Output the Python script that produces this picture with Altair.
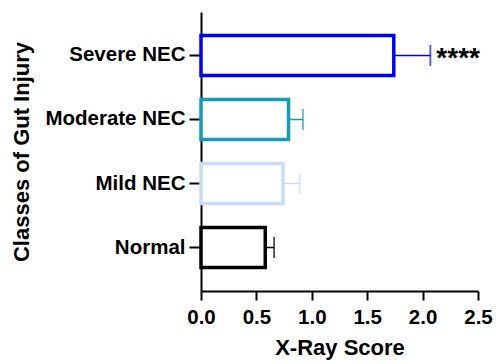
import altair as alt
import pandas as pd

categories = ["Severe NEC", "Moderate NEC", "Mild NEC", "Normal\u2002"]
means = [1.74, 0.79, 0.74, 0.58]
errors = [0.33, 0.13, 0.15, 0.08]
colors = ["#0000FF", "#169CB0", "#C9DDF7", "#000000"]
signif = ["****", "", "", ""]

df = pd.DataFrame({
    "cat": categories,
    "mean": means,
    "hi": [m + e for m, e in zip(means, errors)],
    "sig": signif,
})

FONT = "Liberation Sans"
y = alt.Y("cat:N", sort=categories,
          scale=alt.Scale(paddingInner=0.375, paddingOuter=0.367),
          axis=alt.Axis(title="Classes of Gut Injury", titleFontSize=22, titleFont=FONT,
                        titleFontWeight="bold", titleColor="#000", titlePadding=11,
                        labelFont=FONT, labelFontSize=20.5, labelFontWeight="bold",
                        labelColor="#000", labelPadding=4, tickSize=12, tickWidth=2,
                        tickColor="#000", domainColor="#000", domainWidth=2))
color = alt.Color("cat:N", scale=alt.Scale(domain=categories, range=colors), legend=None)

bars = alt.Chart(df).mark_bar(fill="white", strokeWidth=3.5).encode(
    x=alt.X("mean:Q", scale=alt.Scale(domain=[0, 2.5], nice=False),
            axis=alt.Axis(title="X-Ray Score", values=[0, 0.5, 1, 1.5, 2, 2.5], format=".1f",
                          titleFontSize=22, titleFont=FONT, titleFontWeight="bold",
                          titleColor="#000", titlePadding=10,
                          labelFont=FONT, labelFontSize=20.5, labelFontWeight="bold",
                          labelColor="#000", labelPadding=7, tickSize=9, tickWidth=2,
                          tickColor="#000", domainColor="#000", domainWidth=2,
                          grid=False, labelFlush=False)),
    y=y,
    stroke=color,
)

rules = alt.Chart(df).mark_rule(strokeWidth=1.5).encode(
    x="mean:Q", x2="hi:Q", y=alt.Y("cat:N", sort=categories), stroke=color)
caps = alt.Chart(df).mark_tick(orient="vertical", size=21, thickness=1.8).encode(
    x="hi:Q", y=alt.Y("cat:N", sort=categories), color=color)
stars = alt.Chart(df).mark_text(align="left", baseline="middle", dx=6, dy=4,
                                font=FONT, fontSize=28, fontWeight="bold", color="#000").encode(
    x="hi:Q", y=alt.Y("cat:N", sort=categories), text="sig:N")

chart = alt.layer(bars, rules, caps, stars).properties(
    width=277, height=279,
    autosize=alt.AutoSizeParams(type="none"),
    padding={"left": 201, "top": 12, "right": 18, "bottom": 73},
).configure_view(stroke=None).configure_axis(grid=False)

chart.save("out.html", embed_options={"renderer": "svg", "actions": False})
